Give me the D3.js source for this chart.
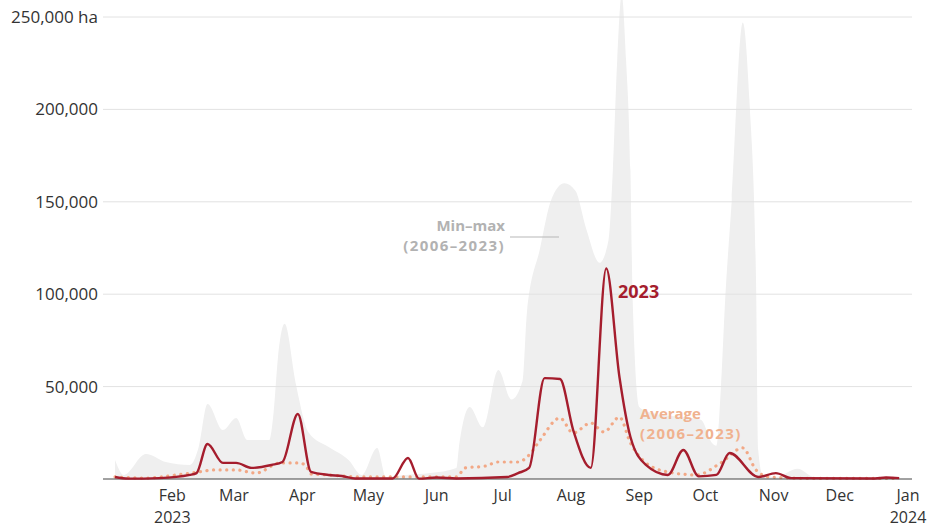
<!DOCTYPE html>
<html>
<head>
<meta charset="utf-8">
<script src="https://cdn.jsdelivr.net/npm/d3@7"></script>
<style>
  body { margin: 0; background: #fff; }
  svg text { font-family: "Open Sans", sans-serif; }
</style>
</head>
<body>
<div id="chart"></div>
<script>
// burned area per period, 2023 vs 2006-2023 range and average

var parse = d3.timeParse("%Y-%m-%d");

// 2023
var dates2023 = ["2023-01-06","2023-01-12","2023-01-26","2023-02-09","2023-02-12","2023-02-17","2023-02-24",
  "2023-03-02","2023-03-09","2023-03-18","2023-03-23","2023-03-30","2023-04-05","2023-04-13","2023-04-19",
  "2023-04-25","2023-05-12","2023-05-19","2023-05-24","2023-06-01","2023-06-10","2023-07-03","2023-07-08",
  "2023-07-13","2023-07-20","2023-07-27","2023-08-02","2023-08-10","2023-08-17","2023-08-23","2023-08-28",
  "2023-09-04","2023-09-14","2023-09-21","2023-09-28","2023-10-06","2023-10-12","2023-10-25","2023-11-02",
  "2023-11-09","2023-12-17","2023-12-22","2023-12-28"];
var values2023 = [1100,200,500,2200,3200,18900,8700,
  8700,6000,7600,9200,35200,3800,2200,1600,
  300,300,11400,200,800,300,1100,3200,
  6000,54600,54100,26500,6000,114000,55200,22700,
  7600,2200,15700,1400,2200,14100,1100,3200,
  500,300,800,500];

// average 2006-2023
var avgDates = ["2023-01-06","2023-01-20","2023-02-03","2023-02-13","2023-02-20","2023-03-02","2023-03-11",
  "2023-03-22","2023-03-31","2023-04-03","2023-04-05","2023-04-13","2023-04-28","2023-05-29","2023-06-10",
  "2023-06-14","2023-06-23","2023-06-29","2023-07-08","2023-07-13","2023-07-18","2023-07-27","2023-08-02",
  "2023-08-10","2023-08-16","2023-08-23","2023-08-28","2023-09-04","2023-09-14","2023-09-27","2023-10-08",
  "2023-10-18","2023-10-24","2023-10-30","2023-11-19","2023-12-28"];
var avgValues = [1100,500,2200,3800,4900,4900,3200,
  8700,8700,6500,2700,2200,1100,1100,1100,
  6000,7000,9200,9200,13000,21100,33000,24900,
  30300,25400,33500,19500,8700,3800,2200,8700,
  16800,4900,1100,300,300];

// max 2006-2023 (min sits on zero)
var maxDates = ["2023-01-06","2023-01-10","2023-01-20","2023-01-29","2023-02-09","2023-02-13","2023-02-17",
  "2023-02-24","2023-03-02","2023-03-07","2023-03-17","2023-03-19","2023-03-21","2023-03-24","2023-03-29","2023-04-04",
  "2023-04-13","2023-04-22","2023-04-28","2023-05-05","2023-05-09","2023-05-18","2023-05-29","2023-06-10",
  "2023-06-11","2023-06-16","2023-06-22","2023-06-29","2023-07-05","2023-07-10","2023-07-12","2023-07-18",
  "2023-07-23","2023-07-29","2023-08-03","2023-08-08","2023-08-14","2023-08-18","2023-08-20","2023-08-22",
  "2023-08-24","2023-08-26","2023-08-28","2023-08-29","2023-09-01","2023-09-07","2023-09-29","2023-10-04",
  "2023-10-06","2023-10-08","2023-10-10","2023-10-13","2023-10-18","2023-10-21","2023-10-24","2023-10-25",
  "2023-10-27","2023-11-02","2023-11-12","2023-11-19","2023-11-26","2023-12-28"];
var maxValues = [10300,2200,13500,9200,7600,17300,40600,
  26500,33000,21100,21100,36000,66000,84000,52000,25000,
  17300,10300,2200,16800,1100,2200,3200,6000,
  15700,39000,28000,59000,43000,53000,90000,125000,
  151000,160000,156000,135000,117000,129000,167000,227000,
  262000,227000,167000,97000,39000,35700,32000,19500,
  18000,48000,97000,151000,247000,205000,108000,15700,
  2200,1100,5500,1100,500,300];

var yTicks = [0, 50000, 100000, 150000, 200000, 250000];

var width = 931, height = 528;

var x = d3.scaleTime()
    .domain([parse("2023-01-01"), parse("2024-01-01")])
    .range([104, 908]);
var y = d3.scaleLinear().domain([0, 250000]).range([479, 17]);

function zip(ds, vs) {
    return ds.map(function(d, i) { return { date: parse(d), value: vs[i] }; });
}
var line2023 = zip(dates2023, values2023);
var avgLine = zip(avgDates, avgValues);
var maxLine = zip(maxDates, maxValues);

var svg = d3.select("#chart").append("svg")
    .attr("width", width)
    .attr("height", height);

// min-max band
svg.append("path")
    .datum(maxLine)
    .attr("fill", "#efefef")
    .attr("d", d3.area()
        .x(function(d) { return x(d.date); })
        .y0(y(0))
        .y1(function(d) { return y(d.value); })
        .curve(d3.curveMonotoneX));

// gridlines + y labels
var fmt = d3.format(",");
var yAxis = svg.append("g");
yAxis.selectAll("line.grid")
    .data(yTicks.slice(1)).enter().append("line")
    .attr("class", "grid")
    .attr("x1", 103).attr("x2", 912)
    .attr("y1", function(d) { return y(d); })
    .attr("y2", function(d) { return y(d); })
    .attr("stroke", "#e2e2e2")
    .attr("stroke-width", 1);
yAxis.selectAll("text")
    .data(yTicks.slice(1)).enter().append("text")
    .attr("x", 98)
    .attr("y", function(d) { return y(d); })
    .attr("dy", "0.35em")
    .attr("text-anchor", "end")
    .attr("fill", "#333")
    .style("font-size", "17px")
    .text(function(d) { return d === 250000 ? fmt(d) + " ha" : fmt(d); });

// average dotted
svg.append("path")
    .datum(avgLine)
    .attr("fill", "none")
    .attr("stroke", "#f2a886")
    .attr("stroke-width", 3.2)
    .attr("stroke-linecap", "round")
    .attr("stroke-dasharray", "0.1 6.5")
    .attr("d", d3.line()
        .x(function(d) { return x(d.date); })
        .y(function(d) { return y(d.value); })
        .curve(d3.curveMonotoneX));

// baseline
svg.append("line")
    .attr("x1", 103).attr("x2", 912)
    .attr("y1", y(0)).attr("y2", y(0))
    .attr("stroke", "#444")
    .attr("stroke-width", 1);

// 2023 line
svg.append("path")
    .datum(line2023)
    .attr("fill", "none")
    .attr("stroke", "#a51d2d")
    .attr("stroke-width", 2.4)
    .attr("stroke-linejoin", "round")
    .attr("d", d3.line()
        .x(function(d) { return x(d.date); })
        .y(function(d) { return y(d.value); })
        .curve(d3.curveMonotoneX));

// x axis labels
var months = d3.timeMonth.range(parse("2023-02-01"), parse("2024-01-02"));
var xAxis = svg.append("g")
    .attr("fill", "#333")
    .style("font-size", "16px")
    .attr("text-anchor", "middle");
xAxis.selectAll("text.month")
    .data(months).enter().append("text")
    .attr("class", "month")
    .attr("x", function(d) { return x(d); })
    .attr("y", 501)
    .text(d3.timeFormat("%b"));
xAxis.selectAll("text.year")
    .data(months.filter(function(d) { return d.getMonth() === 1 || d.getMonth() === 0; }))
    .enter().append("text")
    .attr("class", "year")
    .attr("x", function(d) { return x(d); })
    .attr("y", 523)
    .text(d3.timeFormat("%Y"));

// annotations
var ann = svg.append("g").style("font-weight", "bold").style("font-size", "15px");
ann.append("text").attr("x", 505).attr("y", 231).attr("text-anchor", "end")
    .attr("fill", "#b2b2b2").text("Min\u2013max");
ann.append("text").attr("x", 505).attr("y", 251).attr("text-anchor", "end")
    .attr("fill", "#b2b2b2").style("letter-spacing", "1.4px").text("(2006\u20132023)");
svg.append("line")
    .attr("x1", 510).attr("x2", 559).attr("y1", 237).attr("y2", 237)
    .attr("stroke", "#b8b8b8").attr("stroke-width", 1.2);

ann.append("text").attr("x", 618).attr("y", 298)
    .attr("fill", "#a51d2d").style("font-size", "18px").text("2023");

ann.append("text").attr("x", 640).attr("y", 419)
    .attr("fill", "#f0b28f").text("Average");
ann.append("text").attr("x", 640).attr("y", 439)
    .attr("fill", "#f0b28f").style("letter-spacing", "1.4px").text("(2006\u20132023)");
</script>
</body>
</html>
